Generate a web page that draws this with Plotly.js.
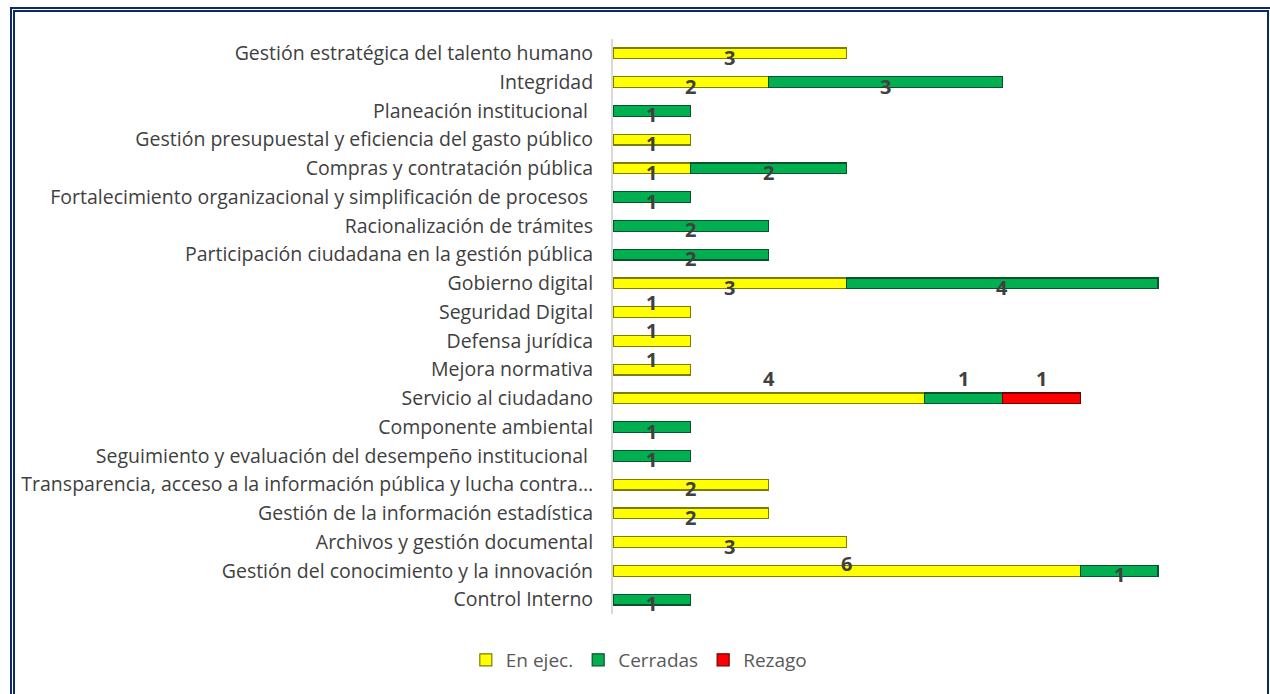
<!DOCTYPE html>
<html>
<head>
<meta charset="utf-8">
<script src="https://cdn.plot.ly/plotly-3.0.1.min.js"></script>
<style>
  html, body { margin: 0; padding: 0; background: #ffffff; overflow: hidden; }
  #chart { width: 1270px; height: 694px; }
  #frame { position: absolute; left: 10px; top: 7px; width: 1252px; height: 700px;
           border: 5px double #0d2a66; pointer-events: none; }
</style>
</head>
<body>
<div id="chart"></div>
<div id="frame"></div>
<script>
// ---- data ----
const categories = [
  "Gestión estratégica del talento humano",
  "Integridad",
  "Planeación institucional ",
  "Gestión presupuestal y eficiencia del gasto público",
  "Compras y contratación pública",
  "Fortalecimiento organizacional y simplificación de procesos ",
  "Racionalización de trámites",
  "Participación ciudadana en la gestión pública",
  "Gobierno digital",
  "Seguridad Digital",
  "Defensa jurídica",
  "Mejora normativa",
  "Servicio al ciudadano",
  "Componente ambiental",
  "Seguimiento y evaluación del desempeño institucional ",
  "Transparencia, acceso a la información pública y lucha contra…",
  "Gestión de la información estadística",
  "Archivos y gestión documental",
  "Gestión del conocimiento y la innovación",
  "Control Interno"
];
const enEjec   = [3, 2, 0, 1, 1, 0, 0, 0, 3, 1, 1, 1, 4, 0, 0, 2, 2, 3, 6, 0];
const cerradas = [0, 3, 1, 0, 2, 1, 2, 2, 4, 0, 0, 0, 1, 1, 1, 0, 0, 0, 1, 1];
const rezago   = [0, 0, 0, 0, 0, 0, 0, 0, 0, 0, 0, 0, 1, 0, 0, 0, 0, 0, 0, 0];
const seriesNames = ["En ejec.", "Cerradas", "Rezago"];

// ---- styles ----
const fills = ["#ffff00", "#00b050", "#ff0000"];
const edges = ["#7d7d00", "#0a5229", "#6e0000"];
const FONT = "Open Sans, Liberation Sans, sans-serif";
// vertical shift of data labels (px) per category row index; default -4
const labelShift = {9: 10, 10: 10, 11: 10, 12: 20};
const labelShiftSeries = {"18-0": 7, "18-1": -4};

const series = [enEjec, cerradas, rezago];
const traces = series.map((vals, i) => ({
  type: "bar",
  orientation: "h",
  name: seriesNames[i],
  y: categories,
  x: vals.map(v => v === 0 ? null : v),
  marker: { color: fills[i], line: { color: edges[i], width: 1.2 } },
  hoverinfo: "x+y+name"
}));

const annotations = [];
categories.forEach((c, r) => {
  let base = 0;
  series.forEach((vals, s) => {
    const v = vals[r];
    if (v > 0) {
      let sh = labelShift.hasOwnProperty(r) ? labelShift[r] : -4;
      const key = r + "-" + s;
      if (labelShiftSeries.hasOwnProperty(key)) sh = labelShiftSeries[key];
      annotations.push({
        x: base + v / 2, y: c, xref: "x", yref: "y",
        text: String(v), showarrow: false, yshift: sh,
        font: { family: FONT, size: 20, color: "#404040", weight: "bold" }
      });
      base += v;
    }
  });
});

const layout = {
  width: 1270, height: 694,
  paper_bgcolor: "#ffffff", plot_bgcolor: "#ffffff",
  margin: { l: 613, r: 80, t: 39, b: 80, autoexpand: false },
  barmode: "stack",
  bargap: 0.62,
  showlegend: true,
  legend: {
    orientation: "h", x: 0.503, xanchor: "center", xref: "container",
    y: 0.049, yanchor: "middle", yref: "container",
    font: { family: FONT, size: 19, color: "#595959" },
    itemwidth: 30, traceorder: "normal"
  },
  xaxis: {
    range: [0, 7.41], showgrid: false, zeroline: false, showticklabels: false,
    showline: false, ticks: ""
  },
  yaxis: {
    type: "category", range: [categories.length - 0.5, -0.5],
    showgrid: false, zeroline: false,
    showline: true, linecolor: "#d9d9d9", linewidth: 2, ticks: "",
    ticklabelstandoff: 14,
    tickfont: { family: FONT, size: 19.5, color: "#404040" }
  },
  annotations: annotations
};

Plotly.newPlot("chart", traces, layout, { displayModeBar: false });
</script>
</body>
</html>
